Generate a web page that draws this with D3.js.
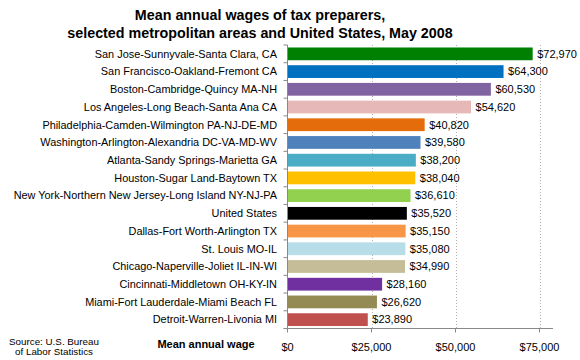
<!DOCTYPE html>
<html><head><meta charset="utf-8">
<script src="https://cdn.jsdelivr.net/npm/d3@7"></script>
<style>body{margin:0;background:#fff;} svg{display:block;font-family:"Liberation Sans",Arial,sans-serif;}</style>
</head><body><svg id="c" width="580" height="360"></svg>
<script>
const categories = ["San Jose-Sunnyvale-Santa Clara, CA","San Francisco-Oakland-Fremont CA","Boston-Cambridge-Quincy MA-NH","Los Angeles-Long Beach-Santa Ana CA","Philadelphia-Camden-Wilmington PA-NJ-DE-MD","Washington-Arlington-Alexandria DC-VA-MD-WV","Atlanta-Sandy Springs-Marietta GA","Houston-Sugar Land-Baytown TX","New York-Northern New Jersey-Long Island NY-NJ-PA","United States","Dallas-Fort Worth-Arlington TX","St. Louis MO-IL","Chicago-Naperville-Joliet IL-IN-WI","Cincinnati-Middletown OH-KY-IN","Miami-Fort Lauderdale-Miami Beach FL","Detroit-Warren-Livonia MI"];
const wages = [72970,64300,60530,54620,40820,39580,38200,38040,36610,35520,35150,35080,34990,28160,26620,23890];
const colors = ["#008000","#0070C0","#8064A2","#E6B9B8","#E46C0A","#4F81BD","#4BACC6","#FFC000","#92D050","#000000","#F79646","#B7DEE8","#C4BD97","#7030A0","#948A54","#C0504D"];
const xTicks = [0,25000,50000,75000];
const titleLines = ["Mean annual wages of tax preparers,","selected metropolitan areas and United States, May 2008"];

const svg = d3.select("#c");
const x0 = 287.5, plotTop = 45, plotBottom = 328.5;
const x = d3.scaleLinear().domain([0,75000]).range([x0,539.5]);
const y = d3.scaleBand().domain(categories).range([plotTop,plotBottom]).paddingInner(0.28).paddingOuter(0.14);
const fmt = d3.format("$,");

// title
svg.append("g").selectAll("text").data(titleLines).join("text")
  .attr("x",260).attr("y",(d,i)=>20+i*17.5).attr("text-anchor","middle")
  .attr("font-size",14.3).attr("font-weight","bold").text(d=>d);

// gridlines
svg.append("g").selectAll("line").data(xTicks.slice(1)).join("line")
  .attr("x1",d=>Math.round(x(d))+0.5).attr("x2",d=>Math.round(x(d))+0.5)
  .attr("y1",plotTop).attr("y2",plotBottom).attr("stroke","#b0b0b0").attr("stroke-dasharray","1,2");

// bars
svg.append("g").selectAll("rect").data(categories).join("rect")
  .attr("x",x0).attr("y",d=>y(d)).attr("height",y.bandwidth())
  .attr("width",(d,i)=>x(wages[i])-x0).attr("fill",(d,i)=>colors[i]);

// value labels
svg.append("g").selectAll("text").data(categories).join("text")
  .attr("x",(d,i)=>x(wages[i])+4.5).attr("y",d=>y(d)+y.bandwidth()/2).attr("dy","0.35em")
  .attr("font-size",11).text((d,i)=>fmt(wages[i]));

// y axis
const step = (plotBottom-plotTop)/categories.length;
const yAxis = svg.append("g");
yAxis.append("line").attr("x1",x0).attr("x2",x0).attr("y1",plotTop).attr("y2",plotBottom).attr("stroke","#888");
yAxis.selectAll("line.t").data(d3.range(categories.length+1)).join("line").attr("class","t")
  .attr("x1",x0-4).attr("x2",x0).attr("y1",i=>plotTop+i*step).attr("y2",i=>plotTop+i*step).attr("stroke","#888");
yAxis.selectAll("text").data(categories).join("text")
  .attr("x",277).attr("y",d=>y(d)+y.bandwidth()/2).attr("dy","0.35em")
  .attr("text-anchor","end").attr("font-size",10.9).text(d=>d);

// x axis
const xAxis = svg.append("g");
xAxis.append("line").attr("x1",x0).attr("x2",553).attr("y1",plotBottom).attr("y2",plotBottom).attr("stroke","#888");
xAxis.selectAll("line.t").data(xTicks).join("line").attr("class","t")
  .attr("x1",d=>x(d)).attr("x2",d=>x(d)).attr("y1",plotBottom).attr("y2",plotBottom+4).attr("stroke","#888");
xAxis.selectAll("text").data(xTicks).join("text")
  .attr("x",d=>x(d)).attr("y",347).attr("dy","0.35em").attr("text-anchor","middle")
  .attr("font-size",11).text(d=>fmt(d));

svg.append("text").attr("x",206).attr("y",348).attr("text-anchor","middle")
  .attr("font-size",11).attr("font-weight","bold").text("Mean annual wage");
svg.append("text").attr("x",54).attr("y",345).attr("text-anchor","middle").attr("font-size",9.8).text("Source: U.S. Bureau");
svg.append("text").attr("x",54).attr("y",354.5).attr("text-anchor","middle").attr("font-size",9.8).text("of Labor Statistics");
</script></body></html>
